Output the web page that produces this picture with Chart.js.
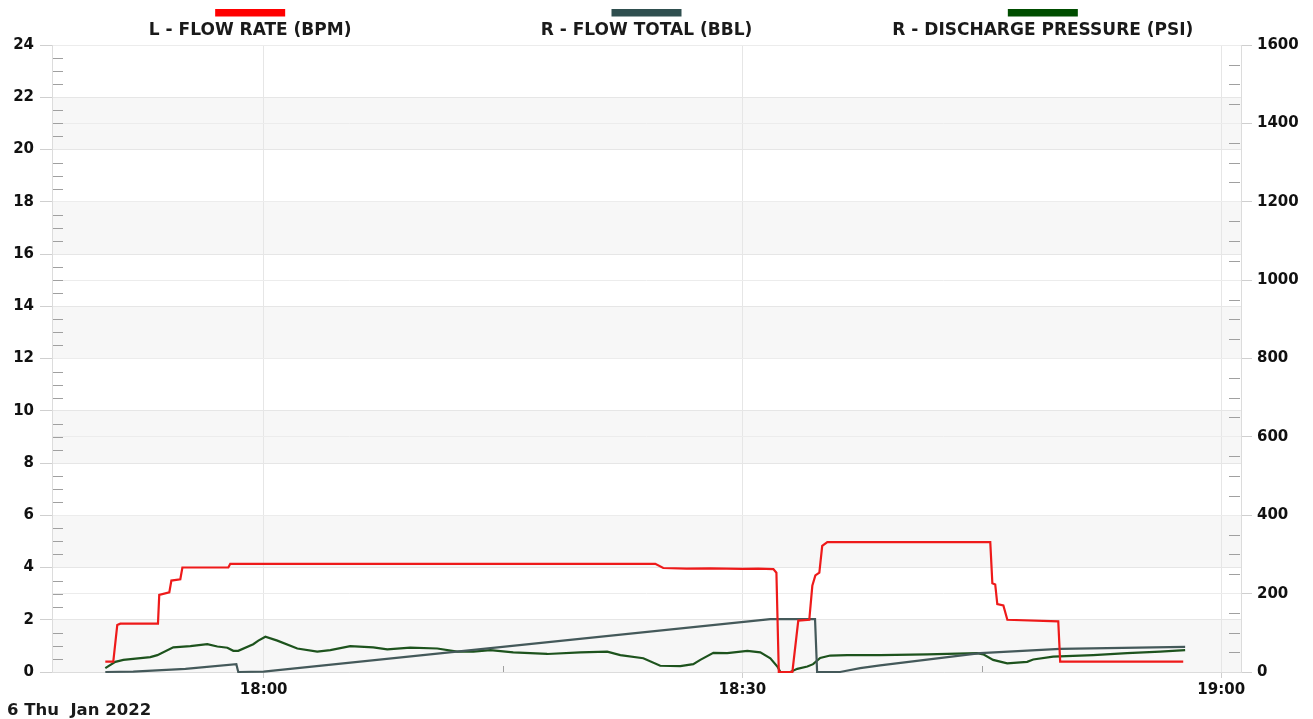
<!DOCTYPE html>
<html>
<head>
<meta charset="utf-8">
<script src="https://cdn.jsdelivr.net/npm/chart.js@4.4.1/dist/chart.umd.min.js"></script>
<style>
  html, body { margin: 0; padding: 0; background: #fff; }
  #wrap { width: 1313px; height: 719px; }
</style>
</head>
<body>
<div id="wrap"><canvas id="chart" width="1313" height="719"></canvas></div>
<script>
// time axis in minutes relative to 18:00
const xMin = -13.26, xMax = 61.24;
const xTickValues = [0, 30, 60];
const xTickLabels = ['18:00', '18:30', '19:00'];
const xMinorValues = [15, 45];
const dateLabel = '6 Thu  Jan 2022';

// L - FLOW RATE (BPM)
const rateMin = [-9.92, -9.42, -9.17, -8.98, -6.62, -6.54, -5.91, -5.78, -5.22, -5.09, -2.21, -2.09, 24.54, 25.04, 26.5, 28, 30, 31, 31.94, 32.13, 32.28, 33.13, 33.5, 34.19, 34.38, 34.57, 34.82, 35.0, 35.32, 45.53, 45.66, 45.84, 45.97, 46.35, 46.6, 49.79, 49.91, 57.62];
const rateBpm = [0.4, 0.4, 1.8, 1.85, 1.85, 2.95, 3.05, 3.5, 3.55, 4.0, 4.0, 4.14, 4.14, 3.98, 3.96, 3.97, 3.95, 3.96, 3.94, 3.8, 0, 0, 1.97, 2.0, 3.3, 3.7, 3.8, 4.83, 4.97, 4.97, 3.4, 3.35, 2.6, 2.55, 2.0, 1.94, 0.4, 0.4];

// R - FLOW TOTAL (BBL)
const totalMin = [-9.92, -8.17, -4.9, -1.71, -1.59, 0, 31.75, 34.55, 34.68, 36.12, 37.38, 38.63, 44.9, 49.91, 57.74];
const totalBbl = [0, 1, 8, 20, 0, 1, 135, 135, 0, 0, 10, 17, 48, 59, 64];

// R - DISCHARGE PRESSURE (PSI)
const pressMin = [-9.92, -9.29, -8.79, -7.10, -6.66, -5.66, -4.59, -3.53, -2.90, -2.27, -1.90, -1.59, -0.65, -0.33, 0.11, 0.86, 2.11, 3.36, 4.18, 5.43, 6.87, 7.75, 9.19, 10.88, 12.13, 13.14, 14.21, 15.64, 17.77, 19.84, 21.53, 22.35, 23.79, 24.85, 26.11, 26.92, 27.36, 28.18, 29.05, 30.31, 31.12, 31.75, 32.19, 32.38, 33.00, 33.44, 34.07, 34.43, 34.87, 35.50, 36.57, 38.63, 41.58, 44.71, 45.09, 45.71, 46.59, 47.84, 48.22, 49.47, 51.98, 54.11, 56.18, 57.74];
const pressPsi = [10, 26, 31, 38, 43, 63, 66, 71, 65, 62, 54, 54, 71, 80, 90, 80, 60, 52, 56, 66, 63, 58, 62, 60, 52, 52, 56, 50, 46, 50, 52, 43, 35, 16, 15, 20, 31, 49, 48, 54, 50, 35, 14, 0, 0, 8, 14, 20, 36, 42, 43, 43, 45, 48, 45, 31, 22, 26, 32, 39, 43, 48, 52, 56];

const seriesLabels = ['L - FLOW RATE (BPM)', 'R - FLOW TOTAL (BBL)', 'R - DISCHARGE PRESSURE (PSI)'];
const lineColors = ['#ee1a1a', '#44595a', '#1d531d'];
const legendColors = ['#ff0000', '#2f4f4f', '#004d00'];

const FONT = 'DejaVu Sans';
const pts = (xs, ys) => xs.map((x, i) => ({ x, y: ys[i] }));

const bands = {
  id: 'bands',
  beforeDraw(chart) {
    const { ctx, chartArea: a, scales } = chart;
    const y = scales.yL;
    ctx.save();
    ctx.fillStyle = '#f7f7f7';
    for (let v = y.min; v < y.max; v += 4) {
      const top = y.getPixelForValue(v + 2), bot = y.getPixelForValue(v);
      ctx.fillRect(a.left, top, a.right - a.left, bot - top);
    }
    ctx.restore();
  }
};

const minorTicks = {
  id: 'minorTicks',
  beforeDatasetsDraw(chart) {
    const { ctx, chartArea: a, scales } = chart;
    ctx.save();
    ctx.strokeStyle = '#a0a0a0';
    ctx.lineWidth = 1;
    ctx.beginPath();
    for (let v = 0.5; v < scales.yL.max; v += 0.5) {
      if (v % 2 === 0) continue;
      const py = Math.round(scales.yL.getPixelForValue(v)) + 0.5;
      ctx.moveTo(a.left + 1, py); ctx.lineTo(a.left + 11, py);
    }
    for (let v = 50; v < scales.yR.max; v += 50) {
      if (v % 200 === 0) continue;
      const py = Math.round(scales.yR.getPixelForValue(v)) + 0.5;
      ctx.moveTo(a.right - 12, py); ctx.lineTo(a.right - 1, py);
    }
    for (const v of xMinorValues) {
      const px = Math.round(scales.x.getPixelForValue(v)) + 0.5;
      ctx.moveTo(px, a.bottom - 6); ctx.lineTo(px, a.bottom);
    }
    ctx.stroke();
    ctx.restore();
  }
};

const topLegend = {
  id: 'topLegend',
  afterDraw(chart) {
    const { ctx, chartArea: a } = chart;
    const w = (a.right - a.left) / 3;
    ctx.save();
    chart.data.datasets.forEach((ds, i) => {
      const cx = a.left + w * (i + 0.5);
      ctx.fillStyle = legendColors[i];
      ctx.fillRect(cx - 35, 9, 70, 7.5);
      ctx.fillStyle = '#1a1a1a';
      ctx.font = 'bold 17px "' + FONT + '"';
      ctx.textAlign = 'center';
      ctx.textBaseline = 'middle';
      ctx.fillText(ds.label, cx, 31);
    });
    ctx.font = 'bold 15px "' + FONT + '"';
    ctx.textAlign = 'left';
    ctx.textBaseline = 'middle';
    ctx.translate(7, 711);
    ctx.scale(1.1, 1);
    ctx.fillText(dateLabel, 0, 0);
    ctx.restore();
  }
};

const tickFont = { family: FONT, size: 15, weight: 'bold' };

new Chart(document.getElementById('chart').getContext('2d'), {
  type: 'line',
  data: {
    datasets: [
      { label: seriesLabels[0], data: pts(rateMin, rateBpm), yAxisID: 'yL', borderColor: lineColors[0] },
      { label: seriesLabels[1], data: pts(totalMin, totalBbl), yAxisID: 'yR', borderColor: lineColors[1] },
      { label: seriesLabels[2], data: pts(pressMin, pressPsi), yAxisID: 'yR', borderColor: lineColors[2] }
    ]
  },
  options: {
    responsive: false,
    animation: false,
    layout: { padding: { top: 45, left: 0, right: 0, bottom: 0 } },
    elements: { line: { borderWidth: 2.2, tension: 0 }, point: { radius: 0 } },
    datasets: { line: { clip: 4 } },
    plugins: { legend: { display: false }, tooltip: { enabled: false } },
    scales: {
      x: {
        type: 'linear', min: xMin, max: xMax,
        afterBuildTicks: s => { s.ticks = xTickValues.map(v => ({ value: v })); },
        afterFit: s => { s.height = 47; },
        ticks: { font: tickFont, color: '#111', padding: 3, maxRotation: 0,
                 callback: v => xTickLabels[xTickValues.indexOf(v)] },
        grid: { color: '#e6e6e6', tickColor: '#cfcfcf', tickLength: 6 },
        border: { color: '#dcdcdc' }
      },
      yL: {
        position: 'left', min: 0, max: 24,
        afterFit: s => { s.width = 52; },
        ticks: { stepSize: 2, font: tickFont, color: '#111', padding: 6, callback: v => String(v) },
        grid: { color: '#e6e6e6', tickColor: '#cfcfcf', tickLength: 12 },
        border: { color: '#dcdcdc' }
      },
      yR: {
        position: 'right', min: 0, max: 1600,
        afterFit: s => { s.width = 72; },
        ticks: { stepSize: 200, font: tickFont, color: '#111', padding: 5, callback: v => String(v) },
        grid: { color: '#ececec', tickColor: '#cfcfcf', tickLength: 11 },
        border: { color: '#dcdcdc' }
      }
    }
  },
  plugins: [bands, minorTicks, topLegend]
});
</script>
</body>
</html>
